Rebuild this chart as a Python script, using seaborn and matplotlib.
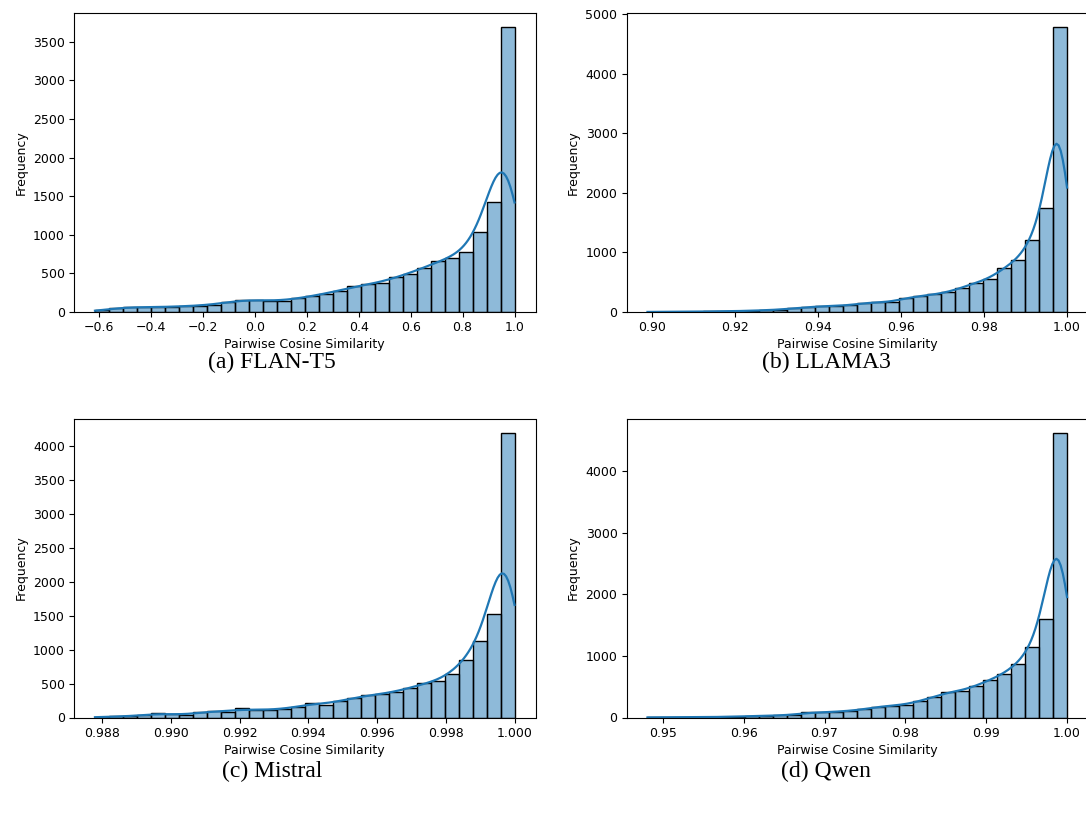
import numpy as np
import matplotlib
matplotlib.use("Agg")
import matplotlib.pyplot as plt
import seaborn as sns

# ---------------- data ----------------
captions = ["(a) FLAN-T5", "(b) LLAMA3", "(c) Mistral", "(d) Qwen"]

# similarity range covered by the 30 histogram bins
flan_range = (-0.615, 1.0)
llama_range = (0.899, 1.0)
mistral_range = (0.98779, 1.0)
qwen_range = (0.9481, 1.0)

# frequency per bin (30 bins, left to right)
flan_counts = [22, 52, 65, 62, 62, 68, 76, 82, 95, 125,
               160, 157, 142, 145, 175, 207, 237, 276, 332, 358,
               379, 453, 496, 573, 655, 703, 776, 1034, 1422, 3690]
llama_counts = [2, 3, 4, 6, 9, 12, 15, 22, 30, 40,
                62, 85, 95, 100, 115, 150, 165, 165, 240, 265,
                295, 330, 410, 495, 555, 745, 865, 1210, 1740, 4780]
mistral_counts = [5, 15, 20, 30, 64, 49, 30, 79, 93, 84,
                  133, 108, 113, 128, 150, 221, 187, 246, 285, 330,
                  344, 379, 433, 502, 531, 639, 851, 1121, 1524, 4200]
qwen_counts = [2, 3, 5, 5, 6, 11, 16, 22, 27, 33,
               44, 82, 82, 93, 109, 131, 178, 193, 207, 270,
               332, 422, 427, 517, 609, 710, 864, 1139, 1609, 4630]

flan_xticks = [-0.6, -0.4, -0.2, 0.0, 0.2, 0.4, 0.6, 0.8, 1.0]
llama_xticks = [0.90, 0.92, 0.94, 0.96, 0.98, 1.00]
mistral_xticks = [0.988, 0.990, 0.992, 0.994, 0.996, 0.998, 1.000]
qwen_xticks = [0.95, 0.96, 0.97, 0.98, 0.99, 1.00]

flan_yticks = [0, 500, 1000, 1500, 2000, 2500, 3000, 3500]
llama_yticks = [0, 1000, 2000, 3000, 4000, 5000]
mistral_yticks = [0, 500, 1000, 1500, 2000, 2500, 3000, 3500, 4000]
qwen_yticks = [0, 1000, 2000, 3000, 4000]

xtick_fmt = ["{:.1f}", "{:.2f}", "{:.3f}", "{:.2f}"]
kde_bw = [1.15, 1.15, 1.17, 1.25]

panels = [
    (flan_range, flan_counts, flan_xticks, flan_yticks),
    (llama_range, llama_counts, llama_xticks, llama_yticks),
    (mistral_range, mistral_counts, mistral_xticks, mistral_yticks),
    (qwen_range, qwen_counts, qwen_xticks, qwen_yticks),
]

# ---------------- figure ----------------
W, H = 1086, 815
fig = plt.figure(figsize=(W / 100, H / 100), dpi=100)
plt.rcParams["font.family"] = ["DejaVu Sans"]

ax_px = [  # left, top, width, height in pixels
    (74, 13, 461.5, 299),
    (626.5, 13, 461.5, 299),
    (74, 418.5, 461.5, 299),
    (626.5, 418.5, 461.5, 299),
]
caption_px = [(272, 362), (826, 362), (272, 771), (826, 771)]

for i, ((lo, hi), counts, xt, yt) in enumerate(panels):
    l, t, w, h = ax_px[i]
    ax = fig.add_axes([l / W, 1 - (t + h) / H, w / W, h / H])
    edges = np.linspace(lo, hi, len(counts) + 1)
    centers = (edges[:-1] + edges[1:]) / 2
    sample = np.repeat(centers, counts)
    sns.histplot(x=sample, bins=edges, kde=True, ax=ax, color="#1f77b4",
                 alpha=0.5, edgecolor="black", linewidth=1.0,
                 kde_kws=dict(cut=3, clip=(lo, hi), bw_adjust=kde_bw[i]),
                 line_kws=dict(linewidth=1.6))
    ax.set_xticks(xt)
    ax.set_xticklabels([xtick_fmt[i].format(v).replace("-", "\u2212") for v in xt],
                       fontsize=9)
    ax.set_yticks(yt)
    ax.set_yticklabels([str(v) for v in yt], fontsize=9)
    ax.set_xlabel("Pairwise Cosine Similarity", fontsize=9, labelpad=3)
    ax.set_ylabel("Frequency", fontsize=9)
    ax.tick_params(length=3.5, width=0.8, pad=3)
    for s in ax.spines.values():
        s.set_linewidth(0.8)
    cx, cy = caption_px[i]
    fig.text(cx / W, 1 - cy / H, captions[i], ha="center", va="center",
             fontsize=17, family=["Liberation Serif", "DejaVu Serif"])

fig.savefig("out.png", dpi=100)
